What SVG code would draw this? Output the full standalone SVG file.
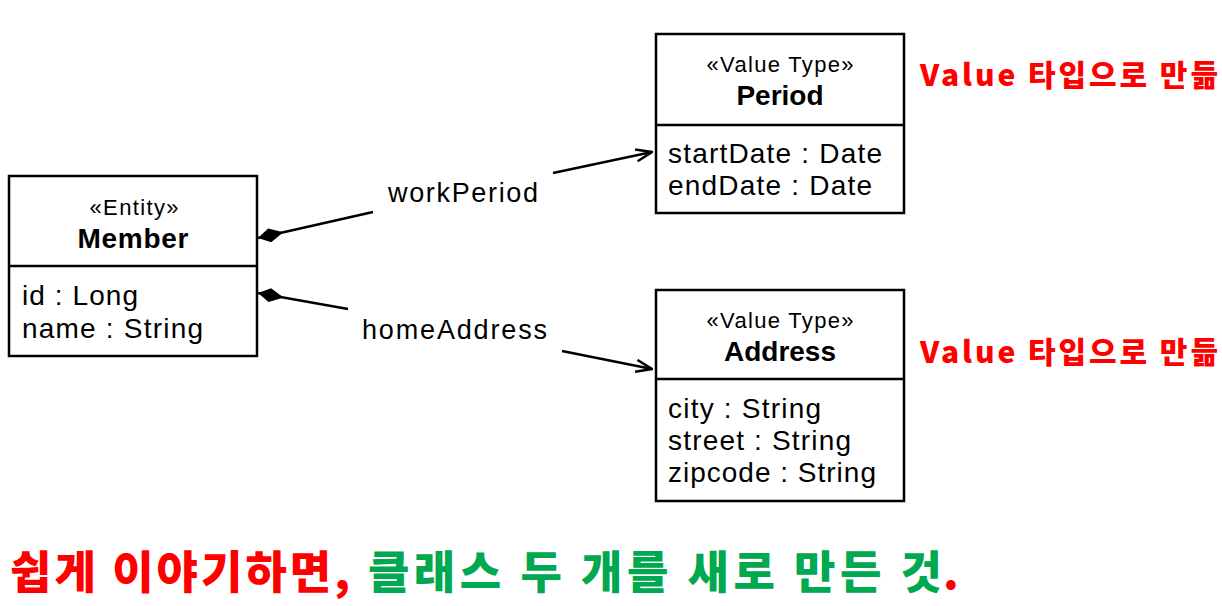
<svg xmlns="http://www.w3.org/2000/svg" width="1222" height="606" viewBox="0 0 1222 606">
<defs>
<style>
.box{fill:#fff;stroke:#000;stroke-width:2.5}
.div{stroke:#000;stroke-width:2.5}
.st{font-family:"Liberation Sans","Noto Sans",Arial,sans-serif;font-size:22px;fill:#000;text-anchor:middle}
.nm{font-family:"Liberation Sans","Noto Sans",Arial,sans-serif;font-size:28px;font-weight:bold;fill:#000;text-anchor:middle}
.at{font-family:"Liberation Sans","Noto Sans",Arial,sans-serif;font-size:28px;fill:#000}
.lbl{font-family:"Liberation Sans","Noto Sans",Arial,sans-serif;font-size:27px;fill:#000}
.line{fill:none;stroke:#000;stroke-width:2.5}
.note{font-family:"Noto Sans CJK KR","Noto Sans",sans-serif;font-size:30px;font-weight:900;fill:#ff0000}
.big{font-family:"Noto Sans CJK KR","Noto Sans",sans-serif;font-size:45px;font-weight:900}
</style>
<marker id="diamond" viewBox="0 0 26 14" refX="0" refY="7" markerWidth="26" markerHeight="14" markerUnits="userSpaceOnUse" orient="auto">
<path d="M0,7 L12,0 L26,7 L12,14 Z" fill="#000"/>
</marker>
<marker id="open" viewBox="0 0 18 14" refX="17" refY="7" markerWidth="18" markerHeight="14" markerUnits="userSpaceOnUse" orient="auto">
<path d="M1,1 L17,7 L1,13" fill="none" stroke="#000" stroke-width="2.5"/>
</marker>
</defs>
<rect width="1222" height="606" fill="#fff"/>

<g id="connectors">
<path class="line" d="M258,238 L373,212" marker-start="url(#diamond)"/>
<path class="line" d="M553,173 L652,152" marker-end="url(#open)"/>
<text class="lbl" x="388" y="202" textLength="150">workPeriod</text>
<path class="line" d="M258,293 L348,309" marker-start="url(#diamond)"/>
<path class="line" d="M562,351 L652,369" marker-end="url(#open)"/>
<text class="lbl" x="362" y="339" textLength="185">homeAddress</text>
</g>

<g id="member">
<rect class="box" x="9" y="176" width="248" height="180"/>
<line class="div" x1="9" y1="266" x2="257" y2="266"/>
<text class="st" x="134" y="215" textLength="89">«Entity»</text>
<text class="nm" x="133" y="248" textLength="111">Member</text>
<text class="at" x="22" y="305" textLength="116">id : Long</text>
<text class="at" x="22" y="338" textLength="181">name : String</text>
</g>

<g id="period">
<rect class="box" x="656" y="34" width="248" height="179"/>
<line class="div" x1="656" y1="125" x2="904" y2="125"/>
<text class="st" x="780" y="72" textLength="147">«Value Type»</text>
<text class="nm" x="780" y="105">Period</text>
<text class="at" x="668" y="163" textLength="214">startDate : Date</text>
<text class="at" x="668" y="195" textLength="204">endDate : Date</text>
</g>

<g id="address">
<rect class="box" x="656" y="290" width="248" height="211"/>
<line class="div" x1="656" y1="379" x2="904" y2="379"/>
<text class="st" x="780" y="328" textLength="147">«Value Type»</text>
<text class="nm" x="780" y="361">Address</text>
<text class="at" x="668" y="418" textLength="153">city : String</text>
<text class="at" x="668" y="450" textLength="183">street : String</text>
<text class="at" x="668" y="482" textLength="208">zipcode : String</text>
</g>

<g id="notes">
<text class="note" x="920" y="86" textLength="298">Value 타입으로 만듦</text>
<text class="note" x="920" y="363" textLength="298">Value 타입으로 만듦</text>
<text class="big" x="10" y="589" fill="#ff0000" textLength="340">쉽게 이야기하면,</text>
<text class="big" x="368" y="589" fill="#00a84f" textLength="574">클래스 두 개를 새로 만든 것</text>
<text class="big" x="943" y="589" fill="#ff0000">.</text>
</g>
</svg>
